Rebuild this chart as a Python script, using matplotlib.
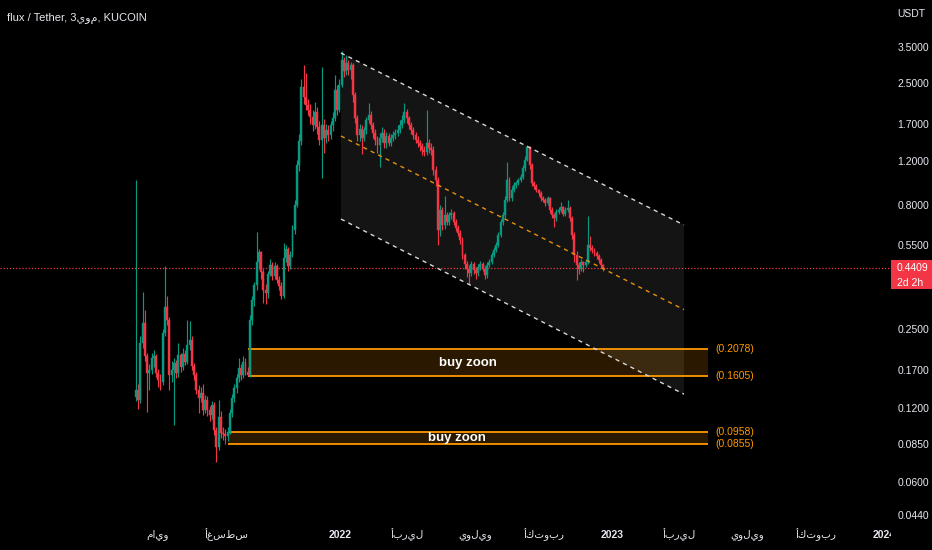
import datetime as dt
import numpy as np
import matplotlib
matplotlib.use("Agg")
import matplotlib.pyplot as plt
import matplotlib.dates as mdates
from matplotlib.patches import Rectangle, Polygon
from matplotlib.transforms import blended_transform_factory, IdentityTransform
from matplotlib.ticker import FixedLocator, FixedFormatter, NullLocator

FONTS = ['Liberation Sans Narrow', 'Liberation Sans', 'DejaVu Sans']
plt.rcParams['font.family'] = FONTS

# ---------------- data (3-day candles, FLUX/USDT KuCoin) ----------------
first_candle = dt.date(2021, 4, 2)
candle_days = 3
open0 = 0.132
closes = [
    0.142, 0.129, 0.22, 0.265, 0.195, 0.166, 0.171, 0.19, 0.194, 0.166,
    0.155, 0.152, 0.24, 0.307, 0.272, 0.163, 0.171, 0.182, 0.166, 0.196,
    0.176, 0.198, 0.184, 0.216, 0.226, 0.177, 0.163, 0.142, 0.131, 0.137,
    0.117, 0.129, 0.117, 0.112, 0.123, 0.097, 0.083, 0.110, 0.095, 0.094,
    0.092, 0.0958, 0.114, 0.131, 0.144, 0.158, 0.174, 0.163, 0.184, 0.168,
    0.163, 0.272, 0.328, 0.378, 0.467, 0.513, 0.428, 0.36, 0.35, 0.419,
    0.455, 0.41, 0.45, 0.396, 0.375, 0.34, 0.486, 0.53, 0.45, 0.50,
    0.632, 0.80, 1.16, 1.45, 2.40, 2.19, 2.03, 1.94, 1.82, 1.69,
    1.90, 1.66, 1.47, 1.69, 1.50, 1.61, 1.54, 1.69, 1.80, 2.34,
    1.94, 2.45, 3.10, 2.80, 3.00, 2.82, 2.96, 2.23, 1.80, 1.54,
    1.63, 1.50, 1.61, 1.77, 1.85, 1.69, 1.57, 1.47, 1.40, 1.50,
    1.57, 1.42, 1.52, 1.43, 1.50, 1.54, 1.57, 1.61, 1.69, 1.77,
    1.90, 1.80, 1.69, 1.61, 1.54, 1.47, 1.42, 1.38, 1.34, 1.31,
    1.42, 1.36, 1.34, 1.11, 1.01, 0.632, 0.76, 0.662, 0.727, 0.68,
    0.727, 0.74, 0.68, 0.644, 0.615, 0.575, 0.50, 0.46, 0.44, 0.422,
    0.46, 0.434, 0.422, 0.445, 0.46, 0.44, 0.415, 0.455, 0.467, 0.50,
    0.524, 0.549, 0.603, 0.68, 0.727, 0.837, 1.01, 0.85, 0.919, 0.964,
    0.98, 1.01, 1.04, 1.13, 1.22, 1.37, 1.16, 0.98, 0.95, 0.919,
    0.89, 0.85, 0.837, 0.81, 0.85, 0.762, 0.727, 0.705, 0.748, 0.762,
    0.78, 0.734, 0.762, 0.775, 0.705, 0.603, 0.50, 0.455, 0.44, 0.467,
    0.455, 0.467, 0.55, 0.535, 0.524, 0.51, 0.496, 0.477, 0.455, 0.4409,
]
highs = [
    1.01, 0.150, 0.235, 0.355, 0.30, 0.20, 0.18, 0.20, 0.205, 0.198,
    0.172, 0.165, 0.25, 0.45, 0.34, 0.28, 0.185, 0.19, 0.188, 0.22,
    0.20, 0.21, 0.205, 0.272, 0.27, 0.235, 0.182, 0.168, 0.148, 0.145,
    0.150, 0.135, 0.134, 0.122, 0.128, 0.126, 0.10, 0.129, 0.116, 0.10,
    0.098, 0.10, 0.118, 0.136, 0.15, 0.165, 0.19, 0.18, 0.195, 0.19,
    0.175, 0.285, 0.34, 0.39, 0.62, 0.53, 0.52, 0.44, 0.38, 0.43,
    0.48, 0.47, 0.47, 0.46, 0.41, 0.39, 0.56, 0.55, 0.54, 0.52,
    0.66, 0.84, 1.22, 1.55, 2.60, 2.96, 2.75, 2.15, 2.05, 1.95,
    2.10, 2.00, 1.75, 2.90, 1.78, 1.70, 1.68, 1.75, 1.90, 2.70,
    2.45, 2.60, 3.37, 3.20, 3.25, 3.10, 3.05, 3.00, 2.30, 1.85,
    1.70, 1.68, 1.66, 1.82, 2.07, 1.92, 1.74, 1.62, 1.52, 1.56,
    1.66, 1.62, 1.58, 1.56, 1.55, 1.60, 1.63, 1.68, 1.76, 1.85,
    2.07, 1.96, 1.84, 1.74, 1.66, 1.58, 1.52, 1.46, 1.42, 1.38,
    1.94, 1.48, 1.42, 1.38, 1.15, 1.04, 0.80, 0.78, 0.865, 0.75,
    0.75, 0.77, 0.755, 0.70, 0.66, 0.63, 0.59, 0.51, 0.475, 0.455,
    0.475, 0.47, 0.445, 0.46, 0.475, 0.47, 0.45, 0.47, 0.48, 0.515,
    0.54, 0.565, 0.62, 0.70, 0.75, 0.87, 1.19, 1.04, 0.95, 0.99,
    1.00, 1.03, 1.07, 1.16, 1.26, 1.40, 1.39, 1.18, 1.00, 0.97,
    0.93, 0.91, 0.87, 0.85, 0.87, 0.86, 0.78, 0.74, 0.77, 0.78,
    0.82, 0.79, 0.78, 0.837, 0.79, 0.72, 0.62, 0.52, 0.47, 0.48,
    0.475, 0.48, 0.72, 0.60, 0.55, 0.535, 0.52, 0.505, 0.485, 0.46,
]
lows = [
    0.128, 0.118, 0.125, 0.21, 0.185, 0.115, 0.142, 0.165, 0.175, 0.16,
    0.145, 0.142, 0.148, 0.235, 0.26, 0.142, 0.152, 0.102, 0.158, 0.16,
    0.168, 0.17, 0.178, 0.18, 0.205, 0.17, 0.155, 0.136, 0.114, 0.126,
    0.112, 0.114, 0.111, 0.106, 0.108, 0.093, 0.072, 0.081, 0.090, 0.089,
    0.0855, 0.088, 0.094, 0.11, 0.126, 0.138, 0.152, 0.155, 0.158, 0.162,
    0.1605, 0.16, 0.26, 0.31, 0.36, 0.44, 0.40, 0.32, 0.315, 0.335,
    0.41, 0.395, 0.40, 0.385, 0.36, 0.33, 0.335, 0.47, 0.43, 0.44,
    0.49, 0.61, 0.78, 1.10, 1.40, 2.05, 1.95, 1.85, 1.70, 1.60,
    1.62, 1.55, 1.40, 1.03, 1.30, 1.42, 1.45, 1.48, 1.60, 1.75,
    1.85, 1.90, 2.40, 2.65, 2.70, 2.70, 2.60, 2.10, 1.72, 1.45,
    1.45, 1.29, 1.45, 1.55, 1.72, 1.62, 1.50, 1.40, 1.30, 1.14,
    1.44, 1.36, 1.36, 1.38, 1.38, 1.45, 1.48, 1.52, 1.56, 1.64,
    1.72, 1.72, 1.62, 1.55, 1.48, 1.42, 1.37, 1.32, 1.28, 1.26,
    1.28, 1.30, 1.28, 1.06, 0.95, 0.55, 0.60, 0.63, 0.64, 0.66,
    0.665, 0.70, 0.66, 0.625, 0.595, 0.555, 0.48, 0.44, 0.406, 0.38,
    0.41, 0.42, 0.40, 0.41, 0.435, 0.43, 0.40, 0.405, 0.445, 0.46,
    0.49, 0.515, 0.54, 0.59, 0.665, 0.71, 0.82, 0.83, 0.83, 0.90,
    0.94, 0.96, 0.99, 1.02, 1.10, 1.20, 1.12, 0.95, 0.93, 0.90,
    0.87, 0.83, 0.82, 0.79, 0.80, 0.74, 0.71, 0.65, 0.69, 0.735,
    0.75, 0.72, 0.72, 0.745, 0.69, 0.58, 0.47, 0.396, 0.42, 0.43,
    0.425, 0.445, 0.46, 0.52, 0.51, 0.495, 0.48, 0.465, 0.445, 0.432,
]

price_ticks = [3.5, 2.5, 1.7, 1.2, 0.8, 0.55, 0.25, 0.17, 0.12, 0.085, 0.06, 0.044]
time_ticks = [dt.date(2021, 5, 1), dt.date(2021, 8, 1), dt.date(2022, 1, 1),
              dt.date(2022, 4, 1), dt.date(2022, 7, 1), dt.date(2022, 10, 1),
              dt.date(2023, 1, 1), dt.date(2023, 4, 1), dt.date(2023, 7, 1),
              dt.date(2023, 10, 1), dt.date(2024, 1, 1)]
time_labels = ["مايو", "أغسطس", "2022", "أبريل", "يوليو", "أكتوبر",
               "2023", "أبريل", "يوليو", "أكتوبر", "2024"]

last_price = 0.4409
countdown = "2d 2h"
title = "flux / Tether, 3يوم, KUCOIN"
currency = "USDT"

zone_high = [0.2078, 0.0958]
zone_low = [0.1605, 0.0855]
zone_start = [dt.date(2021, 8, 30), dt.date(2021, 8, 3)]
zone_end = dt.date(2023, 5, 9)
zone_label = "buy zoon"
zone_label_date = [dt.date(2022, 6, 21), dt.date(2022, 6, 6)]

channel_dates = [dt.date(2022, 1, 2), dt.date(2023, 4, 7)]
channel_upper = [3.31, 0.662]
channel_lower = [0.70, 0.136]

# ---------------- style ----------------
UP = '#089981'
DOWN = '#f23645'
TXT = '#e6e8ee'
ORANGE = '#ff9800'
W, H = 932, 550
AX_RIGHT = 891          # px: right edge of the plotting pane
PX_PER_DAY = 0.7457
REF_DATE, REF_PX = dt.date(2021, 5, 1), 157.5
PX_PER_LN = 106.9        # log scale density
REF_PRICE, REF_PRICE_PX = 3.5, 47

fig = plt.figure(figsize=(W / 100, H / 100), dpi=100, facecolor='black')
ax = fig.add_axes([0, 0, AX_RIGHT / W, 1])
ax.set_facecolor('black')
for s in ax.spines.values():
    s.set_visible(False)
ax.set_yscale('log')

ref = mdates.date2num(REF_DATE)
ax.set_xlim(ref - REF_PX / PX_PER_DAY, ref + (AX_RIGHT - REF_PX) / PX_PER_DAY)
ax.set_ylim(REF_PRICE * np.exp(-(H - REF_PRICE_PX) / PX_PER_LN),
            REF_PRICE * np.exp(REF_PRICE_PX / PX_PER_LN))

# candles
n = len(closes)
x = np.array([mdates.date2num(first_candle + dt.timedelta(days=candle_days * i)) for i in range(n)])
c = np.array(closes)
o = np.array([open0] + closes[:-1])
h = np.array(highs)
l = np.array(lows)
cols = np.where(c >= o, UP, DOWN)
ax.vlines(x, l, h, colors=cols, lw=0.85, zorder=3)
ax.bar(x, np.abs(c - o), bottom=np.minimum(o, c), width=2.6, color=cols,
       linewidth=0.3, edgecolor=cols, zorder=3.1)

# parallel channel
cx = mdates.date2num(channel_dates)
cu = np.array(channel_upper)
cl = np.array(channel_lower)
cm = np.sqrt(cu * cl)
ax.add_patch(Polygon([[cx[0], cu[0]], [cx[1], cu[1]], [cx[1], cl[1]], [cx[0], cl[0]]],
                     closed=True, facecolor='#141414', edgecolor='none', zorder=1))
ax.plot(cx, cu, color='#d8d8d8', lw=1.0, ls=(0, (3, 3)), zorder=4)
ax.plot(cx, cl, color='#d8d8d8', lw=1.0, ls=(0, (3, 3)), zorder=4)
ax.plot(cx, cm, color='#e8900c', lw=1.0, ls=(0, (3, 3)), zorder=4)

# buy zones
xe = mdates.date2num(zone_end)
for hi, lo, st, ld in zip(zone_high, zone_low, zone_start, zone_label_date):
    xs = mdates.date2num(st)
    ax.add_patch(Rectangle((xs, lo), xe - xs, hi - lo, facecolor=ORANGE, alpha=0.17,
                           edgecolor='none', zorder=2))
    ax.hlines([hi, lo], xs, xe, colors=ORANGE, lw=1.3, zorder=2.5)
    for v in (hi, lo):
        ax.annotate(f"({v:.4f})", (xe, v), xytext=(5.5, 0), textcoords='offset points',
                    color=ORANGE, fontsize=7.5, va='center', ha='left', zorder=6)
    ax.text(mdates.date2num(ld), np.sqrt(hi * lo), zone_label, color='white',
            fontsize=9.5, fontweight='bold', ha='center', va='center', zorder=6)

# last price line
ax.axhline(last_price, color=DOWN, lw=0.9, ls=(0, (1, 1.5)), zorder=2.8)

# time axis labels (inside the pane, clipped at price scale like TradingView)
tt = blended_transform_factory(ax.transData, ax.transAxes)
for d, lab in zip(time_ticks, time_labels):
    ax.text(mdates.date2num(d), 15 / H, lab, transform=tt, ha='center', va='center',
            color=TXT, fontsize=7.5, clip_on=True,
            fontweight='bold' if lab.isdigit() else 'normal')

# price axis
ax.xaxis.set_major_locator(FixedLocator([]))
ax.xaxis.set_minor_locator(NullLocator())
ax.yaxis.tick_right()
ax.yaxis.set_major_locator(FixedLocator(price_ticks))
ax.yaxis.set_major_formatter(FixedFormatter([f"{v:.4f}" for v in price_ticks]))
ax.yaxis.set_minor_locator(NullLocator())
ax.tick_params(axis='y', length=0, pad=4.8, labelcolor=TXT, labelsize=7.5)

# last price tag
yp = ax.transData.transform((ax.get_xlim()[0], last_price))[1]
fig.add_artist(Rectangle((AX_RIGHT, yp - 21), W - AX_RIGHT, 29, transform=IdentityTransform(),
                         facecolor=DOWN, edgecolor='none', zorder=10))
fig.text(897, yp, f"{last_price:.4f}", transform=IdentityTransform(), color='white',
         fontsize=7.5, va='center', ha='left', zorder=11)
fig.text(897, yp - 15, countdown, transform=IdentityTransform(), color='white',
         fontsize=7.5, va='center', ha='left', zorder=11)

fig.text(897 / W, 1 - 14 / H, currency, color=TXT, fontsize=7.5, va='center', ha='left')
fig.text(7 / W, 1 - 19 / H, title, color=TXT, fontsize=8, va='center', ha='left')

fig.savefig('out.png', dpi=100, facecolor='black')
